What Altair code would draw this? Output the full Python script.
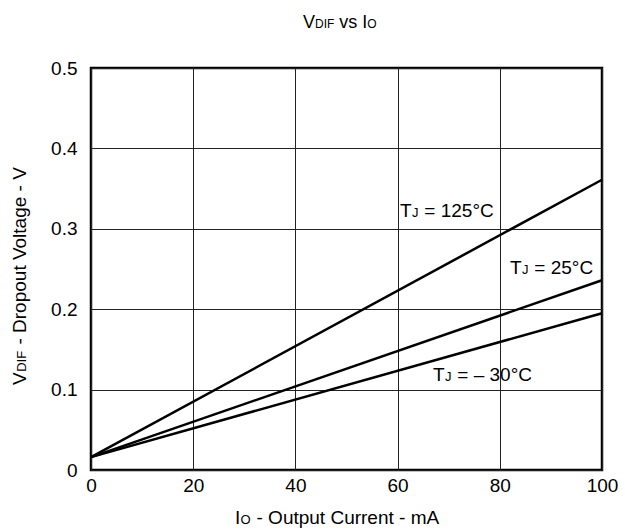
import altair as alt
import pandas as pd

# ---- data ----
x_current = [0, 100]
series_names = ["TJ = 125°C", "TJ = 25°C", "TJ = -30°C"]
v_125 = [0.016, 0.361]
v_25 = [0.016, 0.236]
v_m30 = [0.016, 0.195]
x_ticks = [0, 20, 40, 60, 80, 100]
y_ticks = [0, 0.1, 0.2, 0.3, 0.4, 0.5]

rows = []
for name, vals in zip(series_names, [v_125, v_25, v_m30]):
    for xv, yv in zip(x_current, vals):
        rows.append({"series": name, "io": xv, "v": yv})
df = pd.DataFrame(rows)
one = pd.DataFrame({"k": [0]})

W, H = 511, 402
FONT = "Liberation Sans"
BIG, SMALL = 19, 13

ADV = {'V': 0.667, 'D': 0.722, 'I': 0.278, 'F': 0.611, ' ': 0.278, 'v': 0.5, 's': 0.5,
       'O': 0.778, '-': 0.333, 'r': 0.333, 'o': 0.556, 'p': 0.556, 'u': 0.556, 't': 0.278,
       'l': 0.222, 'a': 0.556, 'g': 0.556, 'e': 0.556, 'C': 0.722, 'n': 0.556, 'm': 0.833,
       'A': 0.667, 'T': 0.611, 'J': 0.5, '=': 0.584, '1': 0.556, '2': 0.556, '5': 0.556,
       '3': 0.556, '0': 0.556, '°': 0.4, '–': 0.556}


def tw(text, size):
    return sum(ADV.get(c, 0.556) for c in text) * size


def pieces_layers(pieces, x0, y0, angle=0, scale=1.0):
    """Draw a run of text pieces (with sub-sized parts) starting at x0,y0 on a shared baseline."""
    layers = []
    pos = 0.0
    for text, size in pieces:
        lead = len(text) - len(text.lstrip(" "))
        body = text.strip(" ")
        start = pos + lead * ADV[" "] * size * scale
        if angle == 0:
            xv, yv = x0 + start, y0
        else:
            xv, yv = x0, y0 - start
        layers.append(
            alt.Chart(one).mark_text(text=body, font=FONT, fontSize=size, color="black",
                                     fontWeight="normal", align="left",
                                     baseline="alphabetic", angle=angle)
            .encode(x=alt.value(xv), y=alt.value(yv))
        )
        pos += tw(text, size) * scale
    return layers


axis_common = dict(grid=True, gridColor="#222222", gridWidth=1, ticks=False, domain=False,
                   labelFont=FONT, labelFontSize=BIG, labelColor="black", title=None)

lines = alt.Chart(df).mark_line(color="black", strokeWidth=2.5).encode(
    x=alt.X("io:Q", scale=alt.Scale(domain=[0, 100], nice=False),
            axis=alt.Axis(values=x_ticks, labelPadding=6, labelFlush=False, **axis_common)),
    y=alt.Y("v:Q", scale=alt.Scale(domain=[0, 0.5], nice=False),
            axis=alt.Axis(values=y_ticks, labelPadding=14,
                          labelExpr="datum.value == 0 ? '0' : format(datum.value, '.1f')",
                          **axis_common)),
    detail="series:N",
)

layers = [lines]

# title
title_p = [("V", 18), ("DIF", 12), (" vs I", 18), ("O", 12)]
layers += pieces_layers(title_p, 212, -40)

# x axis title
xt_p = [("I", BIG), ("O", SMALL), (" - Output Current - mA", BIG)]
layers += pieces_layers(xt_p, 144, 456, scale=1.04)

# y axis title (rotated)
yt_p = [("V", BIG), ("DIF", SMALL), (" - Dropout Voltage - V", BIG)]
layers += pieces_layers(yt_p, -65, 317, angle=270, scale=1.04)

# series labels
layers += pieces_layers([("T", BIG), ("J", SMALL), (" = 125°C", BIG)], 309, 149, scale=1.04)
layers += pieces_layers([("T", BIG), ("J", SMALL), (" = 25°C", BIG)], 419, 206, scale=1.04)
layers += pieces_layers([("T", BIG), ("J", SMALL), (" = – 30°C", BIG)], 342, 313, scale=1.04)

chart = alt.layer(*layers).properties(
    width=W, height=H,
    autosize=alt.AutoSizeParams(type="none"),
    padding={"left": 91, "top": 68, "right": 23, "bottom": 62},
    background="white",
).configure_view(stroke="black", strokeWidth=2.5)

chart.save("out.html", embed_options={"renderer": "svg", "actions": False})
